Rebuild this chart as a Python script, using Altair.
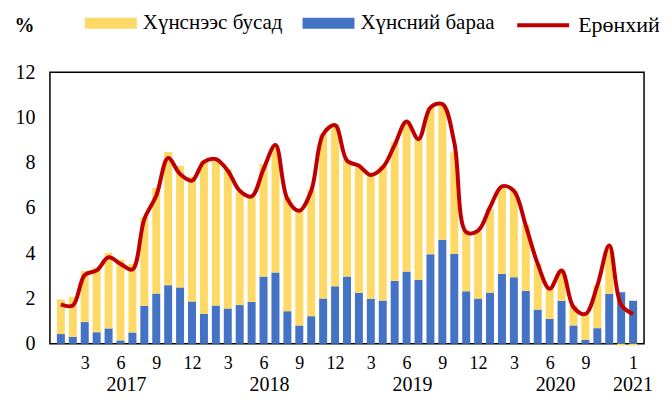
import altair as alt
import pandas as pd

# ---- data ----
months = [1, 2, 3, 4, 5, 6, 7, 8, 9, 10, 11, 12] * 4 + [1]
years = [2017] * 12 + [2018] * 12 + [2019] * 12 + [2020] * 12 + [2021]

food = [0.43, 0.31, 0.96, 0.51, 0.68, 0.15, 0.50, 1.68, 2.22, 2.59, 2.49, 1.87,
        1.32, 1.69, 1.56, 1.71, 1.85, 2.97, 3.15, 1.44, 0.81, 1.22, 2.00, 2.54,
        2.97, 2.25, 1.99, 1.91, 2.78, 3.19, 2.82, 3.96, 4.60, 3.97, 2.32, 2.00,
        2.26, 3.09, 2.94, 2.34, 1.51, 1.10, 1.90, 0.81, 0.18, 0.69, 2.21, 2.28,
        1.90]
nonfood = [1.53, 1.76, 2.26, 2.86, 3.33, 3.56, 3.03, 3.91, 4.66, 5.88, 5.36, 5.51,
           6.77, 6.40, 6.16, 4.98, 4.62, 4.97, 5.63, 5.03, 5.07, 5.57, 7.26, 7.17,
           5.16, 5.54, 5.51, 5.96, 6.12, 6.66, 6.22, 6.48, 5.99, 4.49, 2.68, 2.96,
           3.70, 3.82, 3.82, 2.92, 2.02, 1.33, 1.34, 0.88, 1.14, 1.88, 2.13, -0.08,
           -0.08]
total = [1.74, 1.69, 3.04, 3.24, 3.82, 3.53, 3.28, 5.51, 6.54, 8.21, 7.50, 7.21,
         8.04, 8.16, 7.65, 6.76, 6.51, 7.72, 8.78, 6.40, 5.88, 6.76, 9.26, 9.66,
         8.09, 7.87, 7.46, 7.79, 8.78, 9.82, 9.04, 10.44, 10.59, 8.90, 4.93, 5.00,
         6.03, 6.96, 6.76, 5.22, 3.53, 2.43, 3.24, 1.62, 1.32, 2.57, 4.34, 1.72,
         1.32]

series_nonfood = "Хүнснээс бусад"
series_food = "Хүнсний бараа"
series_total = "Ерөнхий"

# ---- tables ----
n = len(months)
idx = list(range(1, n + 1))
bars = pd.DataFrame({
    "idx": idx * 2,
    "value": food + nonfood,
    "series": [series_food] * n + [series_nonfood] * n,
    "ord": [0] * n + [1] * n,
})
line_df = pd.DataFrame({"idx": idx, "value": total, "series": [series_total] * n,
                        "year": [str(y) for y in years]})
# month ticks every quarter, plus the final month (Dec 2020 is left unlabelled as in the source)
tick_idx = [i for i, m in zip(idx, months) if (m % 3 == 0 and i < n - 1) or i == n]

W, H = 595, 272
FONT = "Liberation Serif"
YELLOW, BLUE, RED = "#FFD966", "#4472C4", "#C00000"

xscale = alt.Scale(domain=[0.5, n + 0.5], nice=False, zero=False)
yscale = alt.Scale(domain=[0, 12], nice=False)
xaxis = alt.Axis(values=tick_idx, title=None, grid=False, ticks=False, domain=False,
                 labelOverlap=False, labelFlush=False,
                 labelExpr=f"datum.value == {n} ? '1' : '' + ((datum.value - 1) % 12 + 1)",
                 labelPadding=11, labelFontSize=18, labelFont=FONT, labelColor="black")
yaxis = alt.Axis(values=[0, 2, 4, 6, 8, 10, 12], grid=False, ticks=False, domain=False,
                 title="%", titleAngle=0, titleX=-26, titleY=-47, titleAlign="center",
                 titleBaseline="middle", titleFont=FONT, titleFontSize=20, titleFontWeight="bold",
                 titleColor="black",
                 labelPadding=15, labelFontSize=20, labelFont=FONT, labelColor="black")

bar_path = "M-1,-0.21H1V0.21H-1Z"

bar_layer = alt.Chart(bars).mark_bar(size=8).encode(
    x=alt.X("idx:Q", scale=xscale, axis=xaxis),
    y=alt.Y("value:Q", stack="zero", scale=yscale, axis=yaxis),
    color=alt.Color("series:N",
                    scale=alt.Scale(domain=[series_nonfood, series_food], range=[YELLOW, BLUE]),
                    legend=alt.Legend(title=None, orient="none", legendX=35, legendY=-75,
                                      direction="horizontal", symbolType=bar_path,
                                      symbolSize=2704, symbolStrokeWidth=0, labelFont=FONT,
                                      labelFontSize=21, labelColor="black", labelOffset=6,
                                      columnPadding=19, padding=0)),
    order=alt.Order("ord:Q"),
)

line_layer = alt.Chart(line_df).mark_line(interpolate="catmull-rom", strokeWidth=4).encode(
    x=alt.X("idx:Q", scale=xscale, axis=xaxis),
    y=alt.Y("value:Q", scale=yscale, axis=yaxis),
    stroke=alt.Stroke("series:N", scale=alt.Scale(domain=[series_total], range=[RED]),
                      legend=alt.Legend(title=None, orient="none", legendX=466, legendY=-75,
                                        symbolType="stroke", symbolSize=2704,
                                        symbolStrokeWidth=4, labelFont=FONT,
                                        labelFontSize=22, labelColor="black",
                                        labelOffset=7, padding=0)),
)

year_layer = alt.Chart(line_df).mark_text(font=FONT, fontSize=20, color="black",
                                          baseline="middle").encode(
    x=alt.X("mean(idx):Q", scale=xscale, axis=xaxis),
    y=alt.value(H + 41),
    text=alt.Text("year:N"),
)

chart = alt.layer(bar_layer, line_layer, year_layer).resolve_scale(
    color="independent", stroke="independent"
).properties(
    width=W, height=H,
    autosize=alt.AutoSizeParams(type="none"),
    padding={"left": 42, "top": 64, "right": 20, "bottom": 51},
).configure_view(stroke="black", strokeWidth=1.5).configure_axisX(labelOverlap=False)

chart.save("out.html", embed_options={"renderer": "svg", "actions": False})
